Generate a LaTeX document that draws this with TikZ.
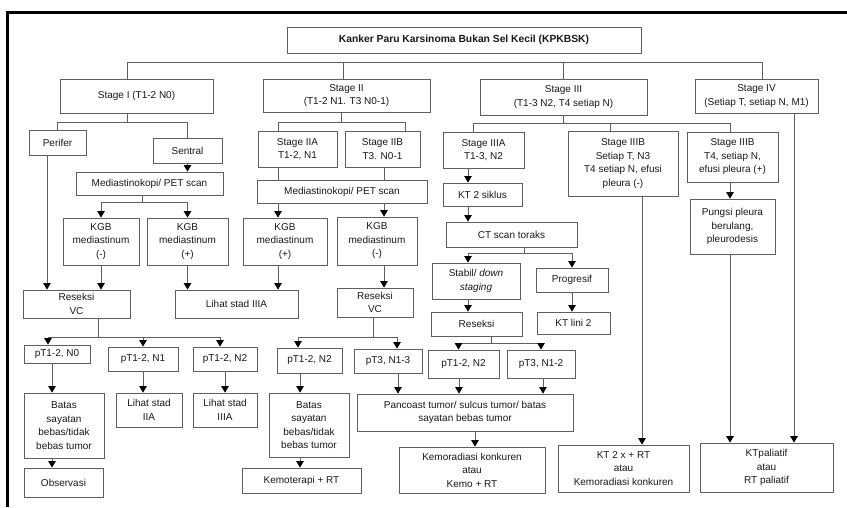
\documentclass[tikz,border=0pt]{standalone}
\usepackage{fontspec}
\setmainfont{Liberation Sans}
\usepackage{tikz}
\usetikzlibrary{arrows.meta, positioning, calc}

\definecolor{linegray}{RGB}{95,95,95}
\definecolor{textgray}{RGB}{25,25,25}

\tikzset{
	box/.style={draw=linegray, line width=0.8pt, fill=white, align=center, inner sep=1pt, text=textgray, font=\fontsize{10}{13.5}\selectfont},
	link/.style={draw=linegray, line width=0.8pt},
	arr/.style={link, -{Triangle[width=7.5pt,length=6.5pt,color=black]}},
	frameline/.style={line width=3pt, black}
}

\begin{document}
\begin{tikzpicture}[x=1pt, y=-1pt]
	\useasboundingbox (0,0) rectangle (847,507);
	\fill[white] (0,0) rectangle (847,507);
	\draw[frameline] (7.5,507) -- (7.5,12.5) -- (847,12.5);

	\node[box, minimum width=354pt, minimum height=26pt, font=\bfseries\fontsize{10.3}{13.5}\selectfont] (title) at (464,40) {Kanker Paru Karsinoma Bukan Sel Kecil (KPKBSK)};

	\node[box, minimum width=153pt, minimum height=34pt] (s1) at (136.5,96) {Stage I (T1-2 N0)};
	\node[box, minimum width=167pt, minimum height=33pt] (s2) at (346.5,95.5) {Stage II\\(T1-2 N1. T3 N0-1)};
	\node[box, minimum width=167pt, minimum height=36pt] (s3) at (563.5,97) {Stage III\\(T1-3 N2, T4 setiap N)};
	\node[box, minimum width=123pt, minimum height=34pt] (s4) at (756.5,96) {Stage IV\\(Setiap T, setiap N, M1)};

	\node[box, minimum width=57pt, minimum height=25pt] (perifer) at (57.5,142.5) {Perifer};
	\node[box, minimum width=69pt, minimum height=25pt] (sentral) at (187.5,150.5) {Sentral};
	\node[box, minimum width=147pt, minimum height=23pt] (medA) at (149.5,183.5) {Mediastinokopi/ PET scan};
	\node[box, minimum width=76pt, minimum height=47pt] (kgbA1) at (101,241.5) {KGB\\mediastinum\\(-)};
	\node[box, minimum width=81pt, minimum height=47pt] (kgbA2) at (187.5,241.5) {KGB\\mediastinum\\(+)};
	\node[box, minimum width=107pt, minimum height=28pt] (resA) at (76.5,304) {Reseksi\\VC};
	\node[box, minimum width=123pt, minimum height=28pt] (lihatA) at (236.5,304) {Lihat stad IIIA};
	\node[box, minimum width=66pt, minimum height=18pt] (pA0) at (57,354) {pT1-2, N0};
	\node[box, minimum width=70pt, minimum height=24pt] (pA1) at (143,359) {pT1-2, N1};
	\node[box, minimum width=64pt, minimum height=24pt] (pA2) at (225,359) {pT1-2, N2};
	\node[box, minimum width=80pt, minimum height=65pt] (batasA) at (64,425.5) {Batas\\sayatan\\bebas/tidak\\bebas tumor};
	\node[box, minimum width=66pt, minimum height=34pt] (lihatB) at (149,410) {Lihat stad\\IIA};
	\node[box, minimum width=64pt, minimum height=34pt] (lihatC) at (225,410) {Lihat stad\\IIIA};
	\node[box, minimum width=79pt, minimum height=29pt] (obs) at (63.5,482.5) {Observasi};

	\node[box, minimum width=79pt, minimum height=36pt] (s2a) at (297.5,149) {Stage IIA\\T1-2, N1};
	\node[box, minimum width=75pt, minimum height=36pt] (s2b) at (382.5,149) {Stage IIB\\T3. N0-1};
	\node[box, minimum width=170pt, minimum height=23pt] (medB) at (342,191.5) {Mediastinokopi/ PET scan};
	\node[box, minimum width=84pt, minimum height=47pt] (kgbB1) at (285,241.5) {KGB\\mediastinum\\(+)};
	\node[box, minimum width=80pt, minimum height=48pt] (kgbB2) at (377,241) {KGB\\mediastinum\\(-)};
	\node[box, minimum width=76pt, minimum height=29pt] (resB) at (375,302.5) {Reseksi\\VC};
	\node[box, minimum width=65pt, minimum height=25pt] (pB1) at (309.5,360.5) {pT1-2, N2};
	\node[box, minimum width=68pt, minimum height=24pt] (pB2) at (388,361) {pT3, N1-3};
	\node[box, minimum width=80pt, minimum height=64pt] (batasB) at (309,425) {Batas\\sayatan\\bebas/tidak\\bebas tumor};
	\node[box, minimum width=119pt, minimum height=25pt] (kemo) at (301.5,480.5) {Kemoterapi + RT};

	\node[box, minimum width=81pt, minimum height=36pt] (s3a) at (483.5,150) {Stage IIIA\\T1-3, N2};
	\node[box, minimum width=79pt, minimum height=23pt] (kt2) at (482.5,194.5) {KT 2 siklus};
	\node[box, minimum width=131pt, minimum height=25pt] (ct) at (511.5,234.5) {CT scan toraks};
	\node[box, minimum width=88pt, minimum height=36pt] (stabil) at (476,281) {Stabil/ \textit{down}\\\textit{staging}};
	\node[box, minimum width=72pt, minimum height=24pt] (prog) at (572,280) {Progresif};
	\node[box, minimum width=91pt, minimum height=24pt] (resC) at (476.5,324) {Reseksi};
	\node[box, minimum width=73pt, minimum height=22pt] (ktl2) at (573.5,323) {KT lini 2};
	\node[box, minimum width=71pt, minimum height=28pt] (pC1) at (463.5,364) {pT1-2, N2};
	\node[box, minimum width=68pt, minimum height=28pt] (pC2) at (541,364) {pT3, N1-2};
	\node[box, minimum width=216pt, minimum height=37pt] (panc) at (465,412.5) {Pancoast tumor/ sulcus tumor/ batas\\sayatan bebas tumor};
	\node[box, minimum width=146pt, minimum height=46pt] (kemorad) at (472,470) {Kemoradiasi konkuren\\atau\\Kemo + RT};
	\node[box, minimum width=110pt, minimum height=65pt] (s3b1) at (623,163.5) {Stage IIIB\\Setiap T, N3\\T4 setiap N, efusi\\pleura (-)};
	\node[box, minimum width=91pt, minimum height=50pt] (s3b2) at (732.5,157) {Stage IIIB\\T4, setiap N,\\efusi pleura (+)};
	\node[box, minimum width=85pt, minimum height=55pt] (pungsi) at (732.5,226.5) {Pungsi pleura\\berulang,\\pleurodesis};
	\node[box, minimum width=131pt, minimum height=47pt] (kt2x) at (623.5,468.5) {KT 2 x + RT\\atau\\Kemoradiasi konkuren};
	\node[box, minimum width=133pt, minimum height=49pt] (ktpal) at (766.5,467.5) {KTpaliatif\\atau\\RT paliatif};

	\draw[link] ([xshift=-9.5pt]s1.north) -- ++(0,-16) -| ([xshift=5.5pt]s4.north);
	\draw[link] ([xshift=-3.5pt]s2.north) -- ++(0,-16);
	\draw[link] (s3.north) -- ++(0,-16);

	\draw[link] ([xshift=-9.5pt]s1.south) -- ++(0,9) coordinate (j1) -| (perifer.north);
	\draw[link] (j1) -| (sentral.north);
	\draw[arr] (sentral.south) -- (sentral.south |- medA.north);
	\draw[link] ([xshift=-7.5pt]medA.south) -- ++(0,7) coordinate (j2);
	\draw[arr] (j2) -| (kgbA1.north);
	\draw[arr] (j2) -| (kgbA2.north);
	\path ([xshift=-10.5pt]perifer.south) coordinate (pf);
	\draw[arr] (pf) -- (pf |- resA.north);
	\draw[arr] (kgbA1.south) -- (kgbA1.south |- resA.north);
	\draw[arr] (kgbA2.south) -- (kgbA2.south |- lihatA.north);
	\draw[link] ([xshift=21.5pt]resA.south) -- ++(0,19) coordinate (j3);
	\draw[arr] (j3) -| ([xshift=-9pt]pA0.north);
	\draw[arr] (j3) -| (pA1.north);
	\draw[arr] (j3) -| ([xshift=-5pt]pA2.north);
	\path ([xshift=-5pt]pA0.south) coordinate (cA);
	\draw[arr] (cA) -- (cA |- batasA.north);
	\draw[arr] (cA |- batasA.south) -- (cA |- obs.north);
	\draw[arr] (pA1.south) -- (pA1.south |- lihatB.north);
	\draw[arr] (pA2.south) -- (pA2.south |- lihatC.north);

	\path (kgbB1.north) ++(-7,0) coordinate (cB);
	\path (kgbB2.north) ++(7,0) coordinate (cC);
	\draw[link] ([xshift=-5.5pt]s2.south) -- ++(0,10) coordinate (j4);
	\draw[link] (j4) -| (cB |- s2a.north);
	\draw[link] (j4) -| ([xshift=22.5pt]s2b.north);
	\draw[link] (cB |- s2a.south) -- (cB |- medB.north);
	\draw[link] (cC |- s2b.south) -- (cC |- medB.north);
	\draw[arr] (cB |- medB.south) -- (cB |- kgbB1.north);
	\draw[arr] (cC |- medB.south) -- (cC |- kgbB2.north);
	\draw[arr] (cB |- kgbB1.south) -- (cB |- lihatA.north);
	\draw[arr] (cC |- kgbB2.south) -- (cC |- resB.north);
	\draw[link] ([xshift=-2pt]resB.south) -- ++(0,20) coordinate (j5);
	\draw[arr] (j5) -| ([xshift=-11.5pt]pB1.north);
	\draw[arr] (j5) -| ([xshift=9pt]pB2.north);
	\path ([xshift=-9.5pt]pB1.south) coordinate (cD);
	\draw[arr] (cD) -- (cD |- batasB.north);
	\draw[arr] (cD |- batasB.south) -- (cD |- kemo.north);
	\path ([xshift=10pt]pB2.south) coordinate (cE);
	\draw[arr] (cE) -- (cE |- panc.north);

	\path (s3a.south) ++(-15.5,0) coordinate (cF);
	\draw[link] (s3.south) -- ++(0,8) coordinate (j6);
	\draw[link] (j6) -| ([xshift=-10.5pt]s3a.north);
	\draw[link] (j6) -| ([xshift=-13pt]s3b1.north);
	\draw[link] (j6) -| ([xshift=-2.5pt]s3b2.north);
	\draw[arr] (cF) -- (cF |- kt2.north);
	\draw[arr] (cF |- kt2.south) -- (cF |- ct.north);
	\draw[link] ([xshift=12.5pt]ct.south) -- ++(0,6) coordinate (j7);
	\draw[arr] (j7) -| (cF |- stabil.north);
	\draw[arr] (j7) -| (prog.north);
	\draw[arr] (cF |- stabil.south) -- (cF |- resC.north);
	\draw[arr] (prog.south) -- (prog.south |- ktl2.north);
	\draw[link] ([xshift=14.5pt]resC.south) -- ++(0,7) coordinate (j8);
	\draw[arr] (j8) -| ([xshift=-5pt]pC1.north);
	\draw[arr] (j8) -| (pC2.north);
	\draw[arr] ([xshift=-4.5pt]pC1.south) -- ([xshift=-4.5pt]pC1.south |- panc.north);
	\draw[arr] ([xshift=2pt]pC2.south) -- ([xshift=2pt]pC2.south |- panc.north);
	\path ([xshift=10pt]panc.south) coordinate (cK);
	\draw[arr] (cK) -- (cK |- kemorad.north);

	\path ([xshift=19pt]s3b1.south) coordinate (cG);
	\draw[arr] (cG) -- (cG |- kt2x.north);
	\path ([xshift=-2.5pt]s3b2.south) coordinate (cH);
	\draw[arr] (cH) -- (cH |- pungsi.north);
	\draw[arr] (cH |- pungsi.south) -- (cH |- ktpal.north);
	\path ([xshift=37.5pt]s4.south) coordinate (cI);
	\draw[arr] (cI) -- (cI |- ktpal.north);
\end{tikzpicture}
\end{document}
